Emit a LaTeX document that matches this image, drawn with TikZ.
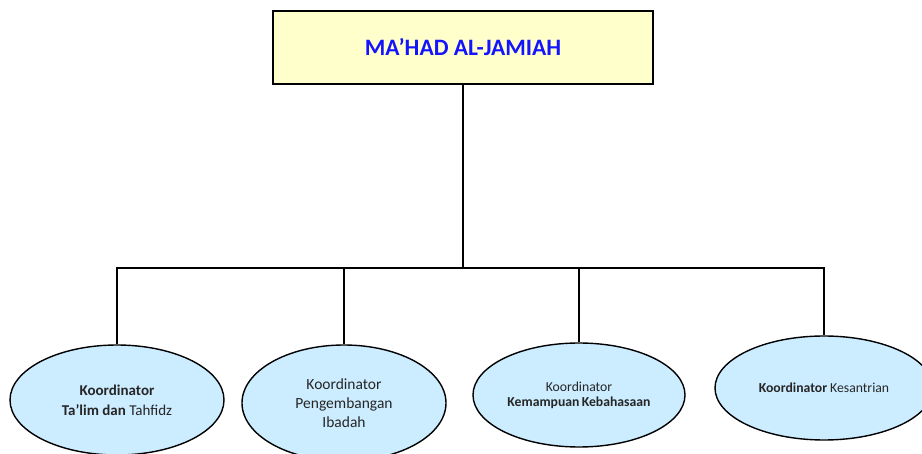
\documentclass[tikz,border=0pt]{standalone}
\usepackage{fontspec}
\setmainfont{Carlito}
\usetikzlibrary{shapes.geometric}
\definecolor{boxyellow}{HTML}{FFFFCC}
\definecolor{ovalblue}{HTML}{CCECFF}
\definecolor{titleblue}{HTML}{1414FF}

\begin{document}
\begin{tikzpicture}[x=1pt,y=-1pt,
  kepala/.style={draw,line width=1.4pt,fill=boxyellow,minimum width=380pt,minimum height=73pt,
    font=\fontsize{23.5}{28}\selectfont\bfseries,text=titleblue},
  koord/.style={ellipse,draw,line width=1.4pt,fill=ovalblue,align=center,text=black!85,inner sep=0pt},
  garis/.style={line width=1.4pt}]
  \useasboundingbox (0,0) rectangle (922,454);
  \node[kepala] (mahad) at (463,47.5) {MA’HAD AL-JAMIAH};
  % koordinator
  \node[koord,minimum width=214pt,minimum height=110pt,font=\fontsize{15}{20}\selectfont] (talim) at (117,400)
    {\textbf{Koordinator}\\ \textbf{Ta’lim dan} Tahfidz};
  \node[koord,minimum width=204pt,minimum height=116pt,font=\fontsize{15.5}{19}\selectfont] (ibadah) at (344,403)
    {Koordinator\\ Pengembangan\\ Ibadah};
  \node[koord,minimum width=212pt,minimum height=104pt,font=\fontsize{13.7}{15}\selectfont] (bahasa) at (579,395)
    {Koordinator\\ \textbf{Kemampuan\,Kebahasaan}};
  \node[koord,minimum width=218pt,minimum height=104pt,font=\fontsize{13.7}{15}\selectfont] (santri) at (824,388)
    {\textbf{Koordinator} Kesantrian};
  \coordinate (bus) at (463,268);
  \draw[garis] (mahad.south) -- (bus);
  \draw[garis] (bus) -| (talim.north);
  \draw[garis] (bus) -| (ibadah.north);
  \draw[garis] (bus) -| (bahasa.north);
  \draw[garis] (bus) -| (santri.north);
\end{tikzpicture}
\end{document}
